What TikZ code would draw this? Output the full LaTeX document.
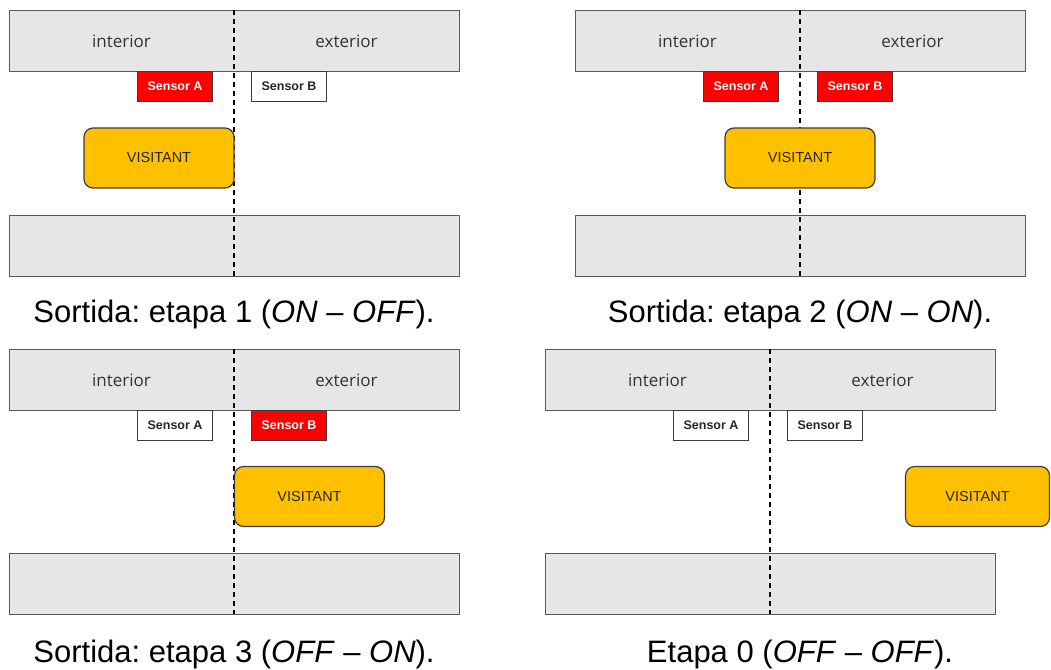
\documentclass[tikz,border=0pt]{standalone}
\usepackage{fontspec}
\setmainfont{Liberation Sans}
\newfontfamily\osans{Open Sans}
\frenchspacing
\definecolor{wallfill}{HTML}{E6E6E6}
\definecolor{wallline}{HTML}{5A5A5A}
\definecolor{boxline}{HTML}{3C3C3C}
\definecolor{amber}{HTML}{FFC000}
\definecolor{sensred}{HTML}{FF0000}
\definecolor{labelgray}{HTML}{333333}
\definecolor{darktext}{HTML}{262626}
\tikzset{
  wall/.style={draw=wallline, fill=wallfill, line width=1.2pt, rectangle, inner sep=0pt,
    minimum width=450pt, minimum height=61pt, anchor=north west},
  walllabel/.style={font=\osans\fontsize{17}{20}\selectfont, text=labelgray, inner sep=0pt},
  sensor/.style={draw=boxline, line width=1.1pt, rectangle, inner sep=0pt,
    minimum width=75pt, minimum height=30pt, anchor=north west,
    font=\bfseries\fontsize{12.5}{14}\selectfont},
  sensoron/.style={sensor, fill=sensred, text=white},
  sensoroff/.style={sensor, fill=white, text=darktext},
  visitant/.style={draw=boxline, line width=1.2pt, fill=amber, rounded corners=9pt,
    rectangle, inner sep=0pt, minimum width=150pt, minimum height=60pt,
    font=\fontsize{14.5}{17}\selectfont, text=darktext},
  divider/.style={black, line width=1.2pt, dash pattern=on 5pt off 4pt},
  caption/.style={anchor=base, inner sep=0pt, font=\fontsize{31}{36}\selectfont, text=black}
}
\begin{document}
\begin{tikzpicture}[x=1pt,y=-1pt]
\useasboundingbox (0,0) rectangle (1051,669);

% ---------- Panel 1 ----------
\node[wall] (p1top) at (9,10) {};
\node[wall] (p1bot) at (9,215) {};
\node[walllabel] (p1int) at (121.5,41) {interior};
\node[walllabel] (p1ext) at (346.5,41) {exterior};
\coordinate (p1dt) at (234,10);
\coordinate (p1db) at (234,276);
\draw[divider] (p1dt) -- (p1db);
\node[sensoron] (p1a) at (137,71) {Sensor A};
\node[sensoroff] (p1b) at (251,71) {Sensor B};
\node[visitant] (p1v) at (159,158) {VISITANT};
\node[caption] (p1c) at (234,322) {Sortida: etapa 1 (\textit{ON} – \textit{OFF}).};

% ---------- Panel 2 ----------
\node[wall] (p2top) at (575,10) {};
\node[wall] (p2bot) at (575,215) {};
\node[walllabel] (p2int) at (687.5,41) {interior};
\node[walllabel] (p2ext) at (912.5,41) {exterior};
\coordinate (p2dt) at (800,10);
\coordinate (p2db) at (800,276);
\draw[divider] (p2dt) -- (p2db);
\node[sensoron] (p2a) at (703,71) {Sensor A};
\node[sensoron] (p2b) at (817,71) {Sensor B};
\node[visitant] (p2v) at (800,158) {VISITANT};
\node[caption] (p2c) at (800,322) {Sortida: etapa 2 (\textit{ON} – \textit{ON}).};

% ---------- Panel 3 ----------
\node[wall] (p3top) at (9,349) {};
\node[wall] (p3bot) at (9,553) {};
\node[walllabel] (p3int) at (121.5,380) {interior};
\node[walllabel] (p3ext) at (346.5,380) {exterior};
\coordinate (p3dt) at (234,349);
\coordinate (p3db) at (234,614);
\draw[divider] (p3dt) -- (p3db);
\node[sensoroff] (p3a) at (137,410) {Sensor A};
\node[sensoron] (p3b) at (251,410) {Sensor B};
\node[visitant] (p3v) at (309.5,496.5) {VISITANT};
\node[caption] (p3c) at (234,662) {Sortida: etapa 3 (\textit{OFF} – \textit{ON}).};

% ---------- Panel 4 ----------
\node[wall] (p4top) at (545,349) {};
\node[wall] (p4bot) at (545,553) {};
\node[walllabel] (p4int) at (657.5,380) {interior};
\node[walllabel] (p4ext) at (882.5,380) {exterior};
\coordinate (p4dt) at (770,349);
\coordinate (p4db) at (770,614);
\draw[divider] (p4dt) -- (p4db);
\node[sensoroff] (p4a) at (673,410) {Sensor A};
\node[sensoroff] (p4b) at (787,410) {Sensor B};
\node[visitant, minimum width=144pt] (p4v) at (977.5,496.5) {VISITANT};
\node[caption] (p4c) at (800,662) {Etapa 0 (\textit{OFF} – \textit{OFF}).};
\end{tikzpicture}
\end{document}
